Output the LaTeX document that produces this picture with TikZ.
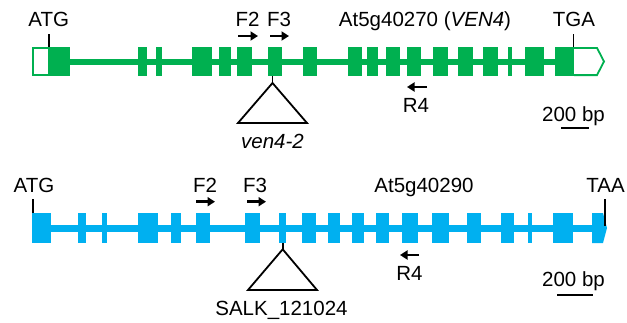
\documentclass[tikz,border=0pt]{standalone}
\usepackage{fontspec}
\setmainfont{Liberation Sans}
\usetikzlibrary{arrows.meta}
\definecolor{exgreen}{HTML}{00B050}
\definecolor{exblue}{HTML}{00B0F0}
\begin{document}
\begin{tikzpicture}[x=1pt,y=-1pt,
 lbl/.style={anchor=base,inner sep=0pt,font=\fontsize{20.5}{24}\selectfont},
 primer/.style={line width=2.6pt,-{Triangle[length=7.5pt,width=9pt]}},
 tickline/.style={line width=1.8pt,black},
 ins/.style={line width=1.8pt,black,line join=miter},
 scalebar/.style={line width=2.6pt,black},
 utr/.style={exgreen,line width=1.8pt,line join=miter}]
\useasboundingbox (0,0) rectangle (627,322);
% ---------- top gene ----------
\fill[exgreen] (70,58.5) rectangle (574,64.5);
\foreach \a/\b in {49/70,138/147,156/162,192/212,219/231,237/252,268/282,303/317,348/362,367/378,386/400,407/421,433/448,458/473,483/498,508/512,525/544,555/574}
  \fill[exgreen] (\a,47) rectangle (\b,76);
\draw[utr] (33.2,47.9) rectangle (49,75.1);
\draw[utr] (574,47.9) -- (597,47.9) -- (604,61.5) -- (597,75.1) -- (574,75.1);
\draw[tickline] (49.3,34) -- (49.3,47);
\draw[tickline] (573.5,34) -- (573.5,47);
\draw[ins] (272.5,76) -- (272.5,83);
\draw[ins] (272.5,83) -- (307,123) -- (238,123) -- cycle;
\draw[primer] (238,36) -- (258,36);
\draw[primer] (270,36) -- (289,36);
\draw[primer] (427,87) -- (407,87);
\draw[scalebar] (561,128) -- (589,128);
\node[lbl] (atg1) at (48.7,26.7) {ATG};
\node[lbl] (f2a) at (247.5,26.7) {F2};
\node[lbl] (f3a) at (279,26.7) {F3};
\node[lbl] (gene1) at (425,26.7) {At5g40270 (\textit{VEN4})};
\node[lbl] (tga) at (574,26.7) {TGA};
\node[lbl] (r4a) at (416,112) {R4};
\node[lbl] (sb1) at (573.5,121) {200 bp};
\node[lbl] (ven) at (272.5,148) {\textit{ven4-2}};
% ---------- bottom gene ----------
\fill[exblue] (32,224.5) rectangle (598,231.5);
\foreach \a/\b in {32/51,78/86,102/107,138/158,171/181,196/210,245/260,279/286,302/316,328/340,352/364,376/389,402/418,432/449,467/481,501/514,528/532,553/573}
  \fill[exblue] (\a,213) rectangle (\b,243);
\fill[exblue] (592,213) -- (603,213) -- (607,228) -- (603,243) -- (592,243) -- cycle;
\draw[tickline] (33.3,199) -- (33.3,213);
\draw[tickline] (605,199) -- (605,226);
\draw[ins] (282.7,243) -- (282.7,249.3);
\draw[ins] (282.7,249.3) -- (317,290) -- (248,290) -- cycle;
\draw[primer] (196,201.7) -- (215,201.7);
\draw[primer] (247,201.7) -- (266,201.7);
\draw[primer] (419,255) -- (400,255);
\draw[scalebar] (557,295) -- (593,295);
\node[lbl] (atg2) at (34,192) {ATG};
\node[lbl] (f2b) at (205,192) {F2};
\node[lbl] (f3b) at (255,192) {F3};
\node[lbl] (gene2) at (424,192) {At5g40290};
\node[lbl] (taa) at (605.5,192) {TAA};
\node[lbl] (r4b) at (409.5,280) {R4};
\node[lbl] (sb2) at (573.5,286) {200 bp};
\node[lbl] (salk) at (281.5,315) {SALK\_121024};
\end{tikzpicture}
\end{document}
